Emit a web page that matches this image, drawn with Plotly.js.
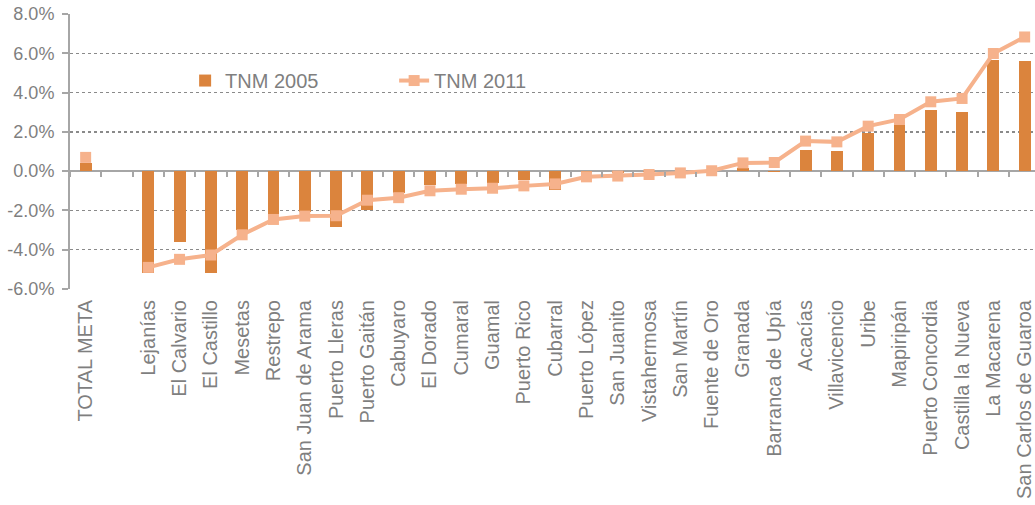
<!DOCTYPE html>
<html>
<head>
<meta charset="utf-8">
<script src="https://cdn.plot.ly/plotly-3.0.1.min.js"></script>
<style>html,body{margin:0;padding:0;background:#fff;}#chart{width:1035px;height:505px;}</style>
</head>
<body>
<div id="chart"></div>
<script>
const categories = ["TOTAL META", " ", "Lejanías", "El Calvario", "El Castillo", "Mesetas", "Restrepo",
  "San Juan de Arama", "Puerto Lleras", "Puerto Gaitán", "Cabuyaro", "El Dorado", "Cumaral", "Guamal",
  "Puerto Rico", "Cubarral", "Puerto López", "San Juanito", "Vistahermosa", "San Martín", "Fuente de Oro",
  "Granada", "Barranca de Upía", "Acacías", "Villavicencio", "Uribe", "Mapiripán", "Puerto Concordia",
  "Castilla la Nueva", "La Macarena", "San Carlos de Guaroa"];

const tnm2005 = [0.0039, null, -0.0521, -0.0363, -0.0516, -0.0300, -0.0218,
  -0.0207, -0.0283, -0.0198, -0.0112, -0.0071, -0.0063, -0.0058,
  -0.0046, -0.0098, -0.0010, -0.0008, -0.0005, 0.0000, 0.0000,
  0.0014, -0.0005, 0.0110, 0.0105, 0.0195, 0.0233, 0.0310,
  0.0300, 0.0565, 0.0560];

const tnm2011 = [0.0070, null, -0.0490, -0.0449, -0.0427, -0.0324, -0.0246,
  -0.0229, -0.0227, -0.0148, -0.0135, -0.0100, -0.0092, -0.0087,
  -0.0075, -0.0065, -0.0029, -0.0025, -0.0017, -0.0009, 0.0002,
  0.0042, 0.0044, 0.0153, 0.0149, 0.0229, 0.0263, 0.0353,
  0.0370, 0.0599, 0.0683];

const yTickVals = [-0.06, -0.04, -0.02, 0, 0.02, 0.04, 0.06, 0.08];
const yTickText = ["-6.0%", "-4.0%", "-2.0%", "0.0%", "2.0%", "4.0%", "6.0%", "8.0%"];

const FONT = "'Liberation Sans', Arial, sans-serif";
const GRAY = "#7f7f7f";
const AXIS = "#a6a6a6";
const xRange = [-0.5, 30.33];
const yRange = [-0.06, 0.08];

const traces = [
  {
    type: "bar", name: "TNM 2005", x: categories, y: tnm2005,
    marker: {color: "#db843d"}, width: 0.38, hoverinfo: "x+y"
  },
  {
    type: "scatter", mode: "lines+markers", name: "TNM 2011", x: categories, y: tnm2011,
    xaxis: "x2", connectgaps: false,
    line: {color: "#f6b28c", width: 4},
    marker: {color: "#f6b28c", symbol: "square", size: 11}
  }
];

const layout = {
  width: 1035, height: 505,
  margin: {l: 70, r: 0, t: 14, b: 216, pad: 0},
  paper_bgcolor: "#fff", plot_bgcolor: "#fff",
  font: {family: FONT, color: GRAY},
  bargap: 0,
  showlegend: true,
  legend: {
    orientation: "h", x: 0.1193, y: 0.758, xanchor: "left", yanchor: "middle",
    font: {size: 20, color: GRAY, family: FONT}, bgcolor: "rgba(0,0,0,0)",
    entrywidth: 164, entrywidthmode: "pixels", traceorder: "normal"
  },
  xaxis: {
    type: "category", categoryorder: "array", categoryarray: categories,
    range: xRange, showgrid: false, zeroline: false, showline: false, ticks: "",
    tickangle: -90, tickfont: {size: 20, color: GRAY, family: FONT}, ticklabelstandoff: 6, fixedrange: true
  },
  xaxis2: {
    type: "category", categoryorder: "array", categoryarray: categories,
    range: xRange, overlaying: "x", anchor: "free", position: 6 / 14,
    showgrid: false, zeroline: false, showline: false, showticklabels: false,
    ticks: "outside", tickson: "boundaries", ticklen: 5, tickwidth: 2, tickcolor: AXIS
  },
  yaxis: {
    range: yRange, tickvals: yTickVals, ticktext: yTickText,
    showgrid: true, griddash: "dot", gridcolor: "#8a8a8a", gridwidth: 1.3,
    zeroline: true, zerolinecolor: AXIS, zerolinewidth: 2,
    showline: true, linecolor: AXIS, linewidth: 2,
    ticks: "outside", ticklen: 6, tickwidth: 2, tickcolor: AXIS,
    tickfont: {size: 18, color: GRAY, family: FONT}, ticklabelstandoff: 4
  }
};

Plotly.newPlot("chart", traces, layout, {displayModeBar: false, staticPlot: true});
</script>
</body>
</html>
